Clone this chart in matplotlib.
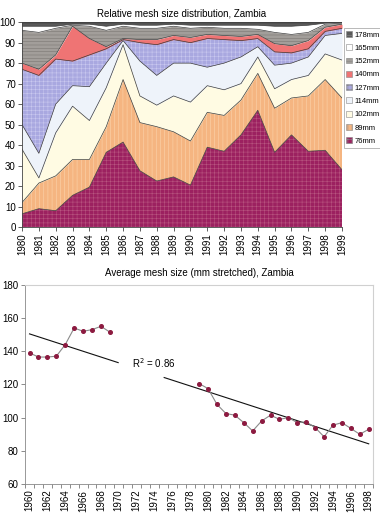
import numpy as np
import matplotlib
matplotlib.use("Agg")
import matplotlib.pyplot as plt
from matplotlib.patches import Patch

plt.rcParams['font.family'] = ['Liberation Sans Narrow', 'Liberation Sans', 'DejaVu Sans']
plt.rcParams['hatch.linewidth'] = 0.4

# --- top chart: share of each mesh size (%) ---
years_top = list(range(1980, 2000))
mesh_labels = ['76mm', '89mm', '102mm', '114mm', '127mm', '140mm', '152mm', '165mm', '178mm']
share_76 = [6.5, 9, 8, 15.5, 19.5, 36.5, 41.5, 27.5, 22.5, 24.5, 20.5, 39, 37, 45, 57, 36.5, 45, 37, 37.5, 28]
share_89 = [5.5, 12.5, 17, 17.5, 13.5, 12.5, 30.5, 23.5, 26.5, 22, 21.5, 17, 17.5, 17, 18, 21.5, 18, 27, 34.5, 35]
share_102 = [26, 2.5, 21, 26, 19, 19, 17, 13, 10.5, 17.5, 19, 13, 12.5, 8, 8, 9.5, 9, 10, 12.5, 18.5]
share_114 = [12, 12, 14, 10, 16.5, 12, 2, 17, 14.5, 16, 19, 9, 13, 13, 5, 11.5, 8, 9, 9, 13]
share_127 = [27, 38, 22, 12, 15.5, 7, 0.5, 9, 15, 11.5, 10, 14, 11.5, 8, 4, 6.5, 5, 4, 2, 2.5]
share_140 = [3, 3, 2, 17, 8, 1, 0.5, 1.5, 2.5, 2, 2.5, 2, 2, 2, 2, 4, 3.5, 4, 2, 2]
share_152 = [16, 18, 13, 0.5, 6, 8, 6, 5.5, 5.5, 4.5, 4.5, 3.5, 3.5, 4, 2.5, 5.5, 5.5, 4, 1.5, 0.5]
share_165 = [2, 3, 1, 0.5, 1, 2, 1, 1.5, 1.5, 1, 1.5, 1, 1.5, 1.5, 2, 3, 4, 3.5, 0.5, 0.3]
share_178 = [2, 2, 2, 1, 1, 2, 1, 1.5, 1.5, 1, 1.5, 1.5, 1.5, 1.5, 1.5, 2, 2, 1.5, 0.5, 0.2]

# --- bottom chart: average mesh size (mm stretched) ---
years_avg = list(range(1960, 1999))
avg_mesh = [139, 136.5, 136.5, 137, 144, 154, 152, 153, 155, 151.5,
            np.nan, np.nan, np.nan, np.nan, np.nan, np.nan, np.nan, np.nan, np.nan,
            120.5, 117.5, 108, 102.5, 101.5, 97, 92, 98, 101.5, 99, 100,
            97, 97.5, 94, 88.5, 95.5, 97, 93.5, 90, 93]

fills = ['#9c2160', '#f5b581', '#fffbe3', '#eef3fa', '#a9a8e0',
         '#ef7474', '#a29e9a', '#ffffff', '#5a5a5a']
hatch_cols = ['#b8557f', '#fbd5ad', '#fffbe3', '#eef3fa', '#c9c8ef',
              '#ef7474', '#7c7874', '#ffffff', '#333333']
hatches = ['++++', '||||', None, None, '++++', None, '-----', None, '----']

fig = plt.figure(figsize=(3.8, 5.15), dpi=100)

# ---------- top: stacked area ----------
ax1 = fig.add_axes([0.058, 0.559, 0.842, 0.398])
shares = np.array([share_76, share_89, share_102, share_114, share_127,
                   share_140, share_152, share_165, share_178])
tops = np.cumsum(shares, axis=0)
x = np.array(years_top)
base = np.zeros(len(x))
for i in range(len(mesh_labels)):
    ax1.fill_between(x, base, tops[i], facecolor=fills[i], edgecolor=hatch_cols[i],
                     hatch=hatches[i], linewidth=0)
    ax1.plot(x, tops[i], color='#3a3a3a', linewidth=0.5)
    base = tops[i]

ax1.set_xlim(1980, 1999)
ax1.set_ylim(0, 100)
ax1.set_yticks(range(0, 101, 10))
ax1.set_xticks(years_top)
ax1.set_xticklabels([str(y) for y in years_top], rotation=90)
ax1.tick_params(labelsize=7, length=3, width=0.6, color='#444', pad=1.5)
for s in ['top', 'right']:
    ax1.spines[s].set_visible(False)
for s in ['left', 'bottom']:
    ax1.spines[s].set_color('#444')
    ax1.spines[s].set_linewidth(0.6)
ax1.set_title('Relative mesh size distribution, Zambia', fontsize=7, pad=4)

handles = [Patch(facecolor=fills[i], edgecolor='#888', hatch=hatches[i], linewidth=0.4,
                 label=mesh_labels[i]) for i in range(len(mesh_labels))][::-1]
leg = ax1.legend(handles=handles, loc='upper left', bbox_to_anchor=(1.005, 0.97),
                 fontsize=5.5, frameon=True, handlelength=0.8, handleheight=0.8,
                 handletextpad=0.3, borderpad=0.35, labelspacing=0.75, borderaxespad=0)
leg.get_frame().set_edgecolor('#999')
leg.get_frame().set_linewidth(0.6)
leg.get_frame().set_boxstyle('square', pad=0)

# ---------- bottom: average mesh size ----------
ax2 = fig.add_axes([0.066, 0.060, 0.916, 0.387])
xa = np.array(years_avg, dtype=float)
ya = np.array(avg_mesh, dtype=float)
ax2.plot(xa, ya, color='#8a8a8a', linewidth=0.8, marker='o', markersize=2.6,
         markerfacecolor='#8c1a40', markeredgecolor='#8c1a40', zorder=3)

ok = ~np.isnan(ya)
coef = np.polyfit(xa[ok], ya[ok], 1)
xt = np.linspace(1960, 1998, 200)
yt = np.polyval(coef, xt)
yt[(xt > 1970) & (xt < 1975)] = np.nan
ax2.plot(xt, yt, color='#111', linewidth=0.8, zorder=2)
ax2.text(1971.5, 133, 'R$^2$ = 0.86', fontsize=7, va='center', ha='left')

ax2.set_xlim(1959.5, 1998.5)
ax2.set_ylim(60, 180)
ax2.set_yticks(range(60, 181, 20))
ax2.set_xticks(range(1960, 1999, 2))
ax2.set_xticklabels([str(y) for y in range(1960, 1999, 2)], rotation=90)
ax2.set_xticks(np.arange(1959.5, 1999, 1), minor=True)
ax2.tick_params(axis='x', which='major', length=0, pad=4)
ax2.tick_params(axis='x', which='minor', length=3, width=0.6, color='#777')
ax2.tick_params(axis='y', length=3, width=0.6, color='#777', pad=2)
ax2.tick_params(labelsize=7)
for s in ['top', 'right']:
    ax2.spines[s].set_color('#d0d0d0')
    ax2.spines[s].set_linewidth(0.8)
for s in ['left', 'bottom']:
    ax2.spines[s].set_color('#888')
    ax2.spines[s].set_linewidth(0.6)
ax2.set_title('Average mesh size (mm stretched), Zambia', fontsize=7, pad=6)

fig.savefig('out.png', dpi=100)
